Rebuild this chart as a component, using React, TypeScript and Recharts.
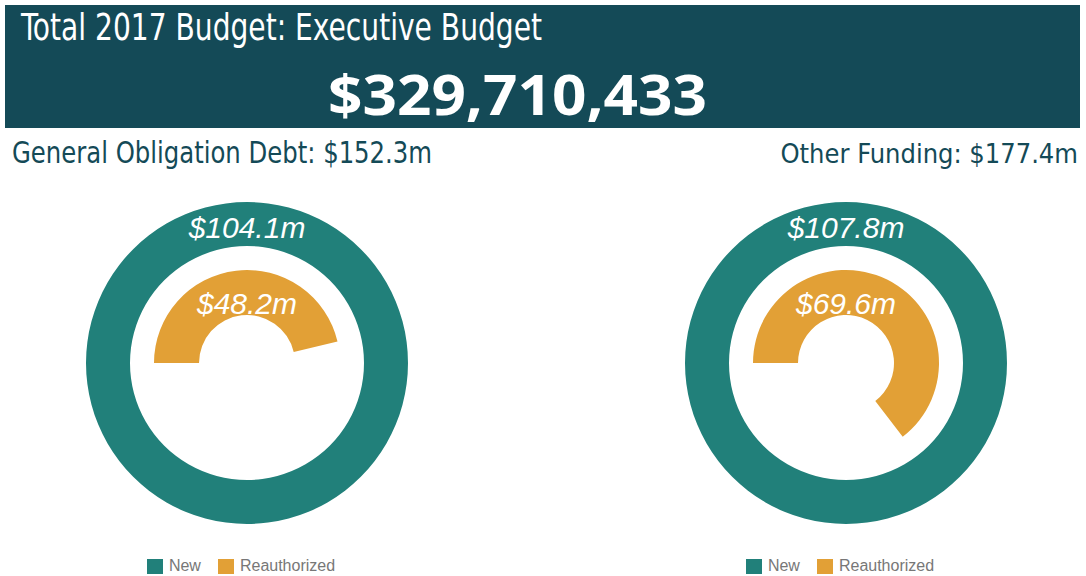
import { Cell, Pie, PieChart } from "recharts";

const TITLE = "Total 2017 Budget: Executive Budget";
const TOTAL = "$329,710,433";
const groups = ["General Obligation Debt: $152.3m", "Other Funding: $177.4m"];
const newValues = [104.1, 107.8];
const reauthValues = [48.2, 69.6];
const seriesNames = ["New", "Reauthorized"];

const HEADER_BG = "#144a57";
const TEAL = "#21807a";
const ORANGE = "#e2a036";
const SCRIPT = "'Liberation Sans Narrow', 'DejaVu Sans Condensed', 'Roboto Condensed', sans-serif";
const LABEL_FONT = "'Liberation Sans', Arial, sans-serif";

const SIZE = 340;
const centers = [247, 846];
const CY = 363;

function label(offset: number, text: string) {
  return (props: any) => {
    if (props.index !== 0) return null;
    return (
      <text
        x={props.cx}
        y={props.cy - offset}
        textAnchor="middle"
        fill="#ffffff"
        fontFamily={LABEL_FONT}
        fontStyle="italic"
        fontSize={30}
      >
        {text}
      </text>
    );
  };
}

function Donut({ i }: { i: number }) {
  const outer = [{ name: seriesNames[0], value: newValues[i] }];
  const inner = [
    { name: seriesNames[1], value: reauthValues[i] },
    { name: "rest", value: newValues[i] - reauthValues[i] },
  ];
  return (
    <div style={{ position: "absolute", left: centers[i] - SIZE / 2, top: CY - SIZE / 2 }}>
      <PieChart width={SIZE} height={SIZE} margin={{ top: 0, right: 0, bottom: 0, left: 0 }}>
        <Pie
          data={outer}
          dataKey="value"
          cx="50%"
          cy="50%"
          innerRadius={117}
          outerRadius={161}
          startAngle={90}
          endAngle={-270}
          stroke="none"
          fill={TEAL}
          isAnimationActive={false}
          labelLine={false}
          label={label(125, `$${newValues[i]}m`)}
        />
        <Pie
          data={inner}
          dataKey="value"
          cx="50%"
          cy="50%"
          innerRadius={48}
          outerRadius={93}
          startAngle={180}
          endAngle={-180}
          stroke="none"
          isAnimationActive={false}
          labelLine={false}
          label={label(49, `$${reauthValues[i]}m`)}
        >
          <Cell fill={ORANGE} />
          <Cell fill="transparent" />
        </Pie>
      </PieChart>
    </div>
  );
}

function LegendRow({ center }: { center: number }) {
  const colors = [TEAL, ORANGE];
  return (
    <div
      style={{
        position: "absolute",
        left: center - 150,
        width: 300,
        top: 557,
        display: "flex",
        justifyContent: "center",
        gap: 17,
        fontFamily: LABEL_FONT,
        fontSize: 16,
        color: "#777777",
      }}
    >
      {seriesNames.map((s, k) => (
        <div key={s} style={{ display: "flex", alignItems: "center", gap: 6 }}>
          <span style={{ width: 16, height: 15, background: colors[k], display: "inline-block" }} />
          <span>{s}</span>
        </div>
      ))}
    </div>
  );
}

export default function App() {
  return (
    <div style={{ position: "absolute", left: 0, top: 0, width: 1086, height: 576, background: "#fff" }}>
      <div style={{ position: "absolute", left: 5, top: 5, width: 1075, height: 123, background: HEADER_BG }} />
      <svg width={1086} height={576} style={{ position: "absolute", left: 0, top: 0 }}>
        <text
          x={21}
          y={40}
          fill="#ffffff"
          fontFamily={SCRIPT}
          fontSize={38}
          textLength={521}
          lengthAdjust="spacingAndGlyphs"
        >
          {TITLE}
        </text>
        <text
          x={328}
          y={115}
          fill="#ffffff"
          fontFamily="'Open Sans', sans-serif"
          fontWeight={700}
          fontSize={56}
          textLength={379}
          lengthAdjust="spacingAndGlyphs"
        >
          {TOTAL}
        </text>
        <text
          x={12}
          y={163}
          fill={HEADER_BG}
          fontFamily={SCRIPT}
          fontSize={31}
          textLength={420}
          lengthAdjust="spacingAndGlyphs"
        >
          {groups[0]}
        </text>
        <text
          x={1078}
          y={163}
          textAnchor="end"
          fill={HEADER_BG}
          fontFamily={SCRIPT}
          fontSize={27}
        >
          {groups[1]}
        </text>
      </svg>
      <Donut i={0} />
      <Donut i={1} />
      <LegendRow center={241} />
      <LegendRow center={840} />
    </div>
  );
}
